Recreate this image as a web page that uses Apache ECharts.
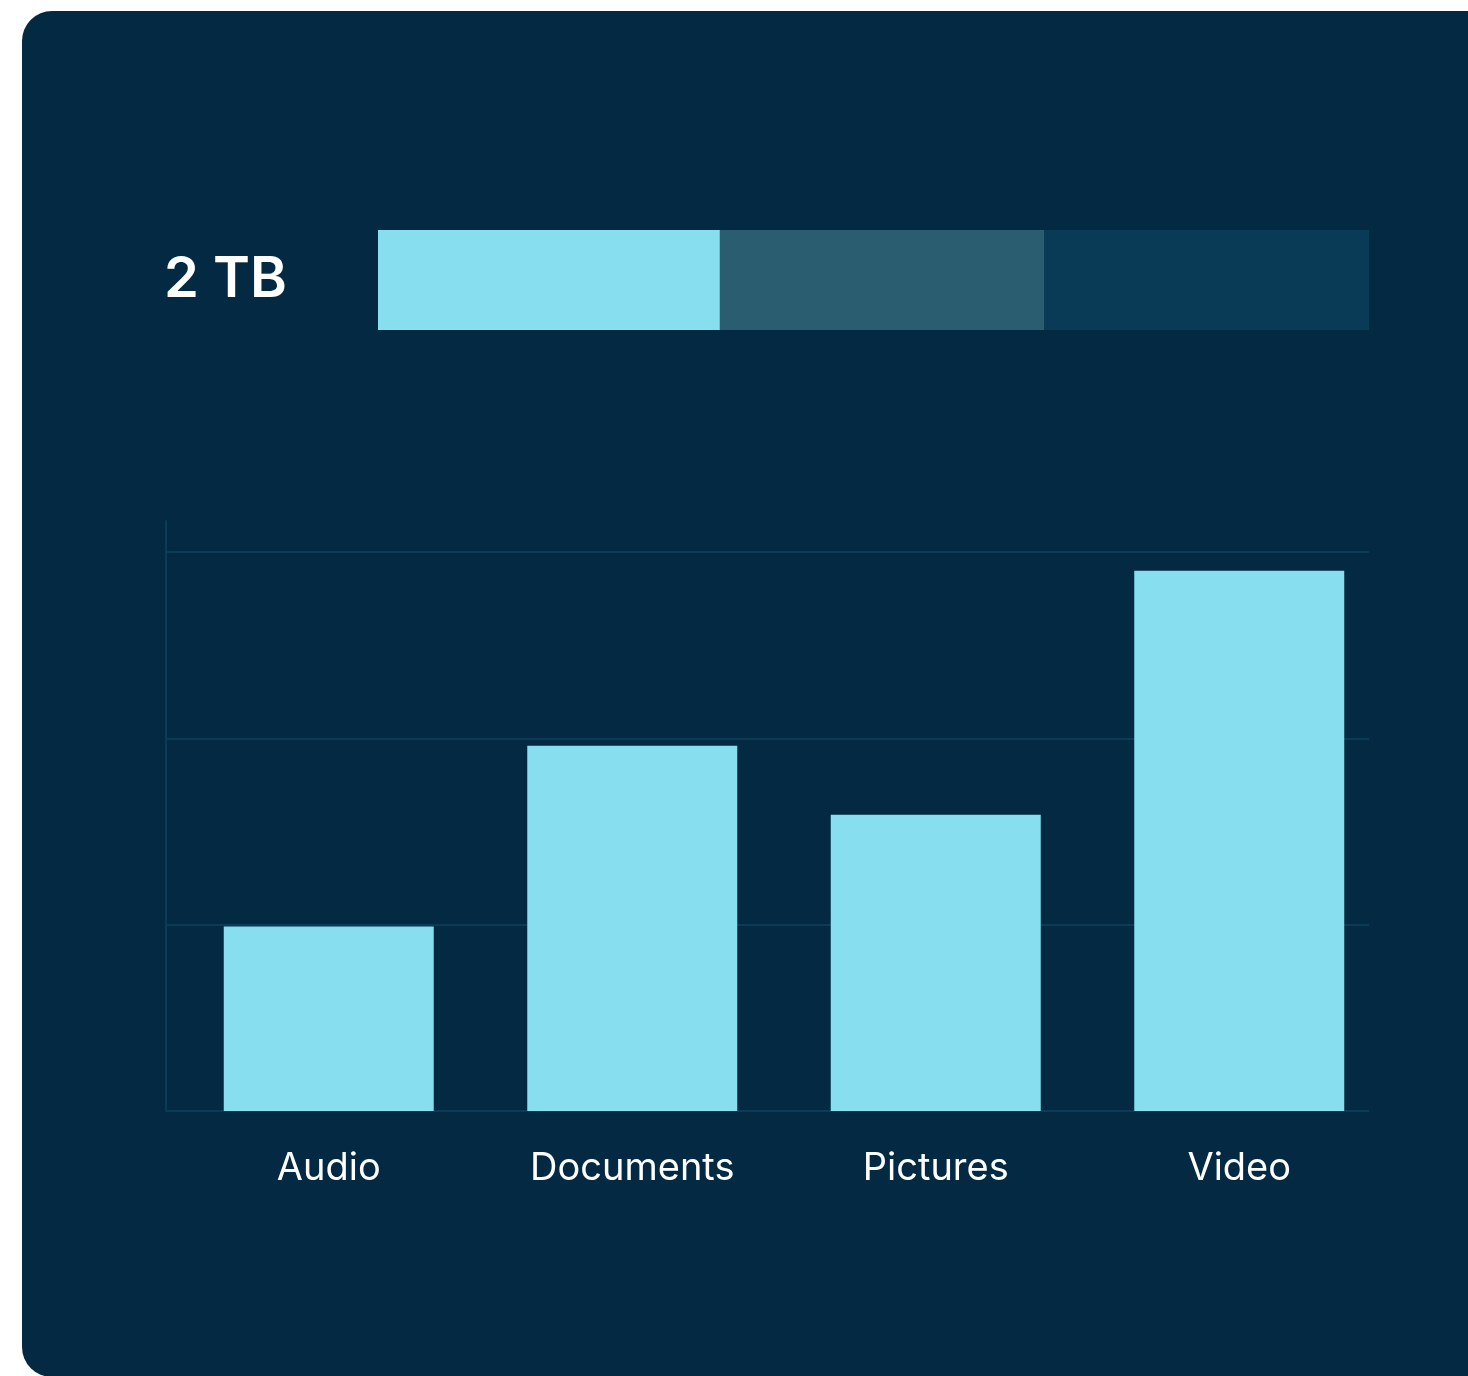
<!DOCTYPE html>
<html>
<head>
<meta charset="utf-8">
<script src="https://cdn.jsdelivr.net/npm/echarts@6/dist/echarts.min.js"></script>
<style>
    html, body { margin: 0; padding: 0; background: #ffffff; overflow: hidden; }
    #card {
        position: absolute; left: 22px; top: 11px;
        width: 1500px; height: 1366px;
        border-radius: 30px; background: #032a42;
    }
    #chart { position: absolute; left: 0; top: 0; width: 1468px; height: 1376px; }
</style>
</head>
<body>
<div id="card"></div>
<div id="chart"></div>
<script>
// 顶部容量条
const capacityLabel = ["2 TB"];
const capacityParts = ["Used", "Reserved", "Free"];
const capacityValues = [0.69, 0.655, 0.655];
const capacityColors = ["#86deee", "#2a5d70", "#093a56"];

// 分类柱状图
const categories = ["Audio", "Documents", "Pictures", "Video"];
const sizes = [0.99, 1.96, 1.59, 2.9];

const BAR_COLOR = "#86deee";
const GRID_COLOR = "#0b3b56";
const FONT = "Inter, 'Open Sans', sans-serif";

const chart = echarts.init(document.getElementById("chart"), null, { renderer: "canvas" });

chart.setOption({
    backgroundColor: "transparent",
    animation: false,
    grid: [
        { left: 378, top: 230, width: 991, height: 100 },   // 容量条
        { left: 166, top: 521, width: 1203, bottom: 265 },  // 网格线
        { left: 177, top: 552, width: 1214, bottom: 265 },  // 柱子
    ],
    xAxis: [
        { gridIndex: 0, type: "value", min: 0, max: 2, show: false },
        { gridIndex: 1, type: "value", min: 0, max: 1, show: false },
        {
            gridIndex: 2, type: "category", data: categories,
            axisLine: { show: false }, axisTick: { show: false },
            axisLabel: { color: "#ffffff", fontSize: 38, fontFamily: FONT, margin: 39 },
        },
    ],
    yAxis: [
        {
            gridIndex: 0, type: "category", data: capacityLabel,
            axisLine: { show: false }, axisTick: { show: false },
            axisLabel: { color: "#ffffff", fontSize: 56, fontWeight: 600, fontFamily: FONT, margin: 91 },
        },
        {
            gridIndex: 1, type: "value", min: 0, max: 3.166, interval: 1,
            axisLabel: { show: false }, axisTick: { show: false },
            axisLine: { show: true, lineStyle: { color: GRID_COLOR, width: 2 } },
            splitLine: {
                show: true,
                lineStyle: { color: [GRID_COLOR, GRID_COLOR, GRID_COLOR, GRID_COLOR, "rgba(0,0,0,0)"], width: 2 },
            },
        },
        { gridIndex: 2, type: "value", min: 0, max: 3, show: false },
    ],
    series: [
        ...capacityParts.map((name, i) => ({
            name: name,
            type: "bar",
            stack: "capacity",
            xAxisIndex: 0,
            yAxisIndex: 0,
            barWidth: 100,
            itemStyle: { color: capacityColors[i] },
            data: [capacityValues[i]],
        })),
        {
            name: "Size",
            type: "bar",
            xAxisIndex: 2,
            yAxisIndex: 2,
            barWidth: 210,
            itemStyle: { color: BAR_COLOR },
            data: sizes,
        },
    ],
});
</script>
</body>
</html>
